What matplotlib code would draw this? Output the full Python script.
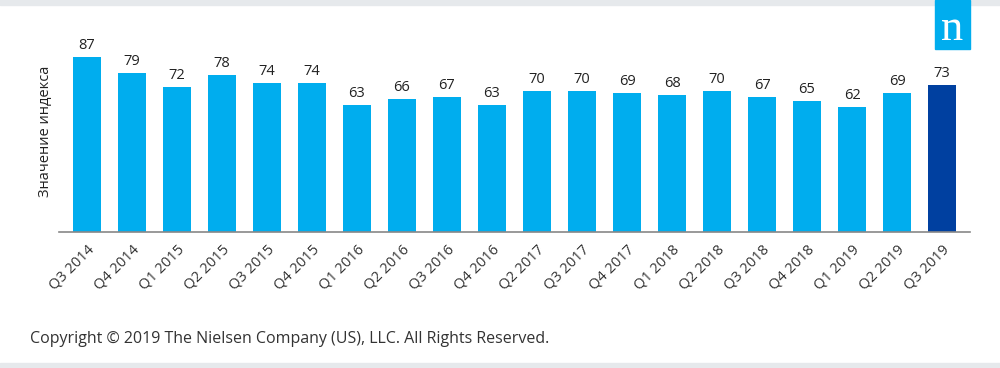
import matplotlib.pyplot as plt
from matplotlib.patches import Rectangle

# Index values by quarter
quarters = ['Q3 2014', 'Q4 2014', 'Q1 2015', 'Q2 2015', 'Q3 2015', 'Q4 2015',
            'Q1 2016', 'Q2 2016', 'Q3 2016', 'Q4 2016', 'Q2 2017', 'Q3 2017',
            'Q4 2017', 'Q1 2018', 'Q2 2018', 'Q3 2018', 'Q4 2018', 'Q1 2019',
            'Q2 2019', 'Q3 2019']
values = [87, 79, 72, 78, 74, 74, 63, 66, 67, 63, 70, 70, 69, 68, 70, 67, 65, 62, 69, 73]

light = '#00ADEE'
dark = '#0040A0'
colors = [light] * (len(values) - 1) + [dark]

plt.rcParams['font.family'] = ['Open Sans', 'DejaVu Sans']

fig = plt.figure(figsize=(10, 3.68), dpi=100)
ax = fig.add_axes([0.059, 0.3696, 0.911, 0.5462])

x = list(range(len(values)))
bars = ax.bar(x, values, width=0.622, color=colors)
ax.set_xlim(-0.622, len(values) - 1 + 0.622)
ax.set_ylim(0, 100)

for b, v in zip(bars, values):
    ax.annotate(str(v), (b.get_x() + b.get_width() / 2, v), xytext=(0, 3),
                textcoords='offset points', ha='center', va='bottom',
                fontsize=10.5, color='#222222')

ax.set_xticks(x)
ax.set_xticklabels(quarters, rotation=45, ha='right', rotation_mode='anchor',
                   fontsize=10.5, color='#333333')
ax.tick_params(axis='x', length=0, pad=7)
ax.set_yticks([])
for s in ['top', 'right', 'left']:
    ax.spines[s].set_visible(False)
ax.spines['bottom'].set_color('#888888')
ax.spines['bottom'].set_linewidth(1.2)

ax.set_ylabel('Значение индекса', fontsize=10.5, color='#222222', labelpad=4)

# gray bands top and bottom
fig.add_artist(Rectangle((0, 1 - 5 / 368), 1, 5 / 368, transform=fig.transFigure,
                         color='#E6E9EC', zorder=0))
fig.add_artist(Rectangle((0, 0), 1, 5 / 368, transform=fig.transFigure,
                         color='#E6E9EC', zorder=0))

# logo
fig.add_artist(Rectangle((0.935, 1 - 49 / 368), 0.035, 49 / 368,
                         transform=fig.transFigure, color=light, zorder=2))
fig.text(0.9525, 1 - 29 / 368, 'n', ha='center', va='center', fontsize=32,
         color='white', family='Liberation Serif', zorder=3)

fig.text(0.030, 1 - 339 / 368, 'Copyright © 2019 The Nielsen Company (US), LLC. All Rights Reserved.',
         ha='left', va='center', fontsize=11.5, color='#333333')

plt.savefig('out.png', dpi=100)
